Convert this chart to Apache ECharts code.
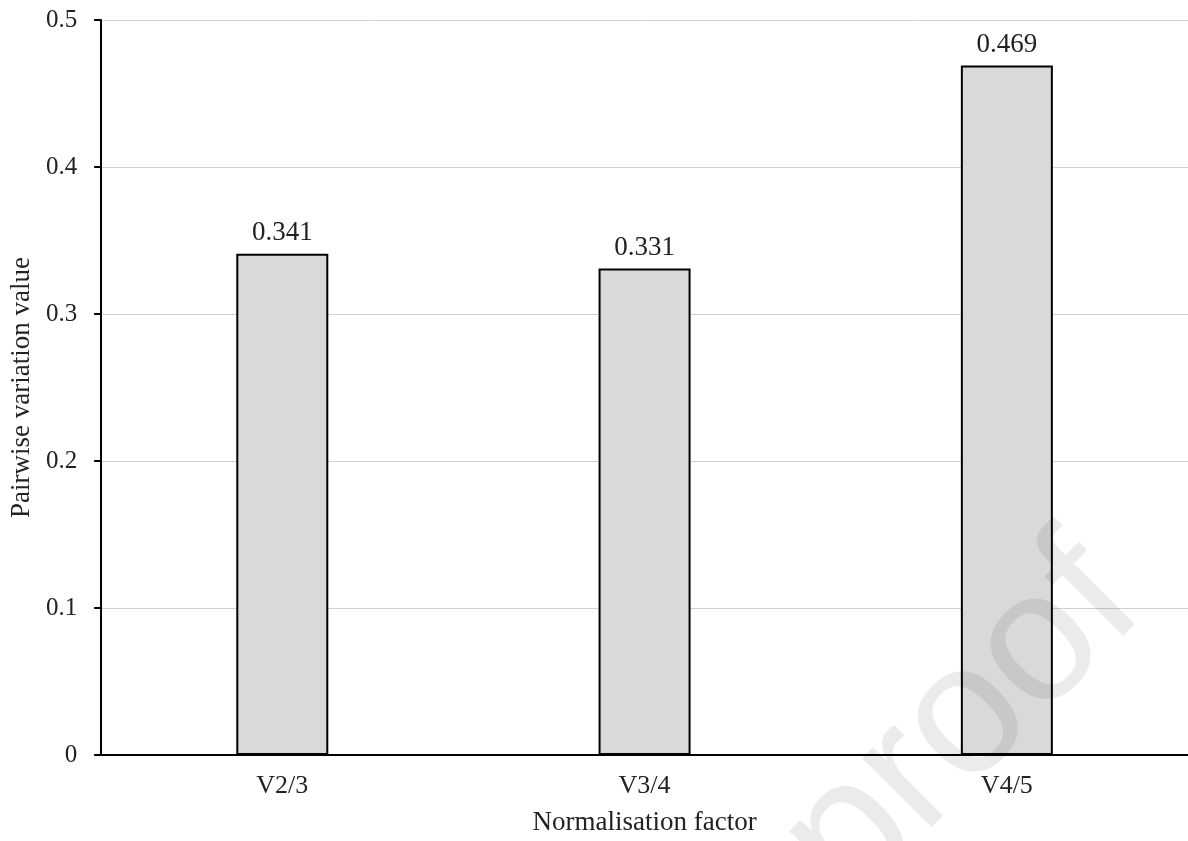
<!DOCTYPE html>
<html>
<head>
<meta charset="utf-8">
<script src="https://cdn.jsdelivr.net/npm/echarts@6/dist/echarts.min.js"></script>
<style>
html,body{margin:0;padding:0;background:#fff;}
#chart{width:1188px;height:841px;}
</style>
</head>
<body>
<div id="chart"></div>
<script>
var categories = ['V2/3', 'V3/4', 'V4/5'];
var values = [0.341, 0.331, 0.469];
var yTicks = [0, 0.1, 0.2, 0.3, 0.4, 0.5];
var xTitle = 'Normalisation factor';
var yTitle = 'Pairwise variation value';
var watermark = 'Journal Pre-proof';

var serif = '"Liberation Serif", "Times New Roman", serif';
var chart = echarts.init(document.getElementById('chart'), null, {renderer: 'canvas'});
chart.setOption({
  animation: false,
  backgroundColor: '#ffffff',
  grid: {left: 99, right: -2, top: 20, bottom: 86, containLabel: false},
  xAxis: {
    type: 'category',
    data: categories,
    name: xTitle,
    nameLocation: 'middle',
    nameGap: 54,
    nameTextStyle: {fontFamily: serif, fontSize: 27, color: '#222'},
    axisLine: {show: true, lineStyle: {color: '#000', width: 2}},
    axisTick: {show: false},
    axisLabel: {fontFamily: serif, fontSize: 26, color: '#222', margin: 18},
    splitLine: {show: false}
  },
  yAxis: {
    type: 'value',
    min: yTicks[0],
    max: yTicks[yTicks.length - 1],
    interval: 0.1,
    name: yTitle,
    nameLocation: 'middle',
    nameGap: 63,
    nameTextStyle: {fontFamily: serif, fontSize: 27, color: '#222'},
    axisLine: {show: true, lineStyle: {color: '#000', width: 2}},
    axisTick: {show: true, length: 7, lineStyle: {color: '#000', width: 2}},
    axisLabel: {fontFamily: serif, fontSize: 25, color: '#222', margin: 24,
      formatter: function (v) { return String(Math.round(v * 10) / 10); }},
    splitLine: {show: true, lineStyle: {color: '#d0d0d0', width: 1}}
  },
  series: [{
    type: 'bar',
    data: values,
    barWidth: 92,
    itemStyle: {color: '#d9d9d9', borderColor: '#000', borderWidth: 2},
    label: {show: true, position: 'top', distance: 7, fontFamily: serif, fontSize: 27, color: '#222',
      formatter: function (p) { return p.value.toFixed(3); }}
  }],
  graphic: [{
    type: 'text',
    x: 1149, y: 612,
    rotation: Math.PI / 4,
    z: 100,
    silent: true,
    style: {
      text: watermark,
      x: 0, y: 40,
      align: 'right',
      verticalAlign: 'bottom',
      font: '185px "Liberation Sans", Arial, sans-serif',
      fill: 'rgba(0,0,0,0.08)'
    }
  }]
});
</script>
</body>
</html>
